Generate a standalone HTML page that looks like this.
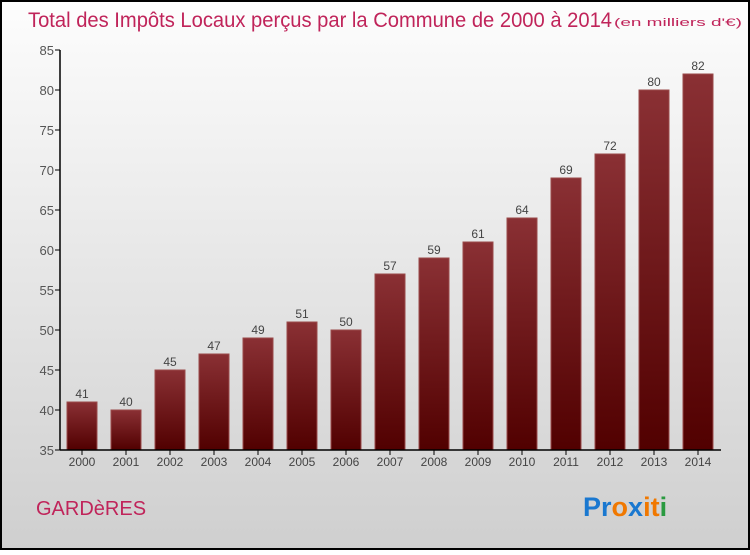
<!DOCTYPE html>
<html><head><meta charset="utf-8"><style>
body{margin:0;width:750px;height:550px;overflow:hidden;font-family:"Liberation Sans",sans-serif}
</style></head><body>
<svg width="750" height="550" xmlns="http://www.w3.org/2000/svg">
<defs>
<linearGradient id="bg" x1="0" y1="0" x2="0" y2="1"><stop offset="0" stop-color="#fdfdfd"/><stop offset="1" stop-color="#cfcfcf"/></linearGradient>
<linearGradient id="bar" x1="0" y1="0" x2="0" y2="1"><stop offset="0" stop-color="#8a3034"/><stop offset="1" stop-color="#510000"/></linearGradient>
</defs>
<rect x="1" y="1" width="748" height="548" fill="url(#bg)" stroke="#000" stroke-width="2"/>
<text x="28" y="27" font-size="21" fill="#c0245a" textLength="584" lengthAdjust="spacingAndGlyphs">Total des Impôts Locaux perçus par la Commune de 2000 à 2014</text>
<text x="614" y="26" font-size="11" fill="#c0245a" textLength="128" lengthAdjust="spacingAndGlyphs">(en milliers d'€)</text>
<g id="plot"></g>
<text x="36" y="515" font-size="20" fill="#c0245a">GARDèRES</text>
<g font-size="27" font-weight="bold">
<text x="583" y="516"><tspan fill="#1a78d0">Pr</tspan><tspan fill="#f07800">o</tspan><tspan fill="#1a78d0">x</tspan><tspan fill="#f07800">i</tspan><tspan fill="#f07800">t</tspan><tspan fill="#2a9a40">i</tspan></text>
</g>
</svg>
<script>
const years=["2000","2001","2002","2003","2004","2005","2006","2007","2008","2009","2010","2011","2012","2013","2014"];
const values=[41,40,45,47,49,51,50,57,59,61,64,69,72,80,82];
const yTicks=[35,40,45,50,55,60,65,70,75,80,85];
const NS="http://www.w3.org/2000/svg";
const g=document.getElementById('plot');
const y=v=>450-(v-35)*8;
const x=i=>82+i*44;
function el(t,a,txt){const e=document.createElementNS(NS,t);for(const k in a)e.setAttribute(k,a[k]);if(txt!==undefined)e.textContent=txt;g.appendChild(e);return e;}
yTicks.forEach(t=>{
 const l=el('line',{x1:55,x2:60,y1:y(t),y2:y(t),stroke:'#000'});
 
 
 const tx=el('text',{x:54,y:y(t)+5,'text-anchor':'end','font-size':13,fill:'#555'},t);
 
 
});
values.forEach((v,i)=>{
 const r=el('rect',{x:x(i)-15,y:y(v),width:30,height:450-y(v),fill:'url(#bar)',stroke:'#9a4a4a','stroke-width':1});
 
 
 const vl=el('text',{x:x(i),y:y(v)-4,'text-anchor':'middle','font-size':12,fill:'#444'},v);
 
 
 const tk=el('line',{x1:x(i),x2:x(i),y1:450,y2:455,stroke:'#000'});
 
 
 const xl=el('text',{x:x(i),y:466,'text-anchor':'middle','font-size':12,fill:'#444'},years[i]);
 
 
});
const ya=el('line',{x1:60,x2:60,y1:50,y2:450,stroke:'#000','stroke-width':1.5});


const xa=el('line',{x1:60,x2:721,y1:450,y2:450,stroke:'#000','stroke-width':1.5});


</script>
</body></html>
